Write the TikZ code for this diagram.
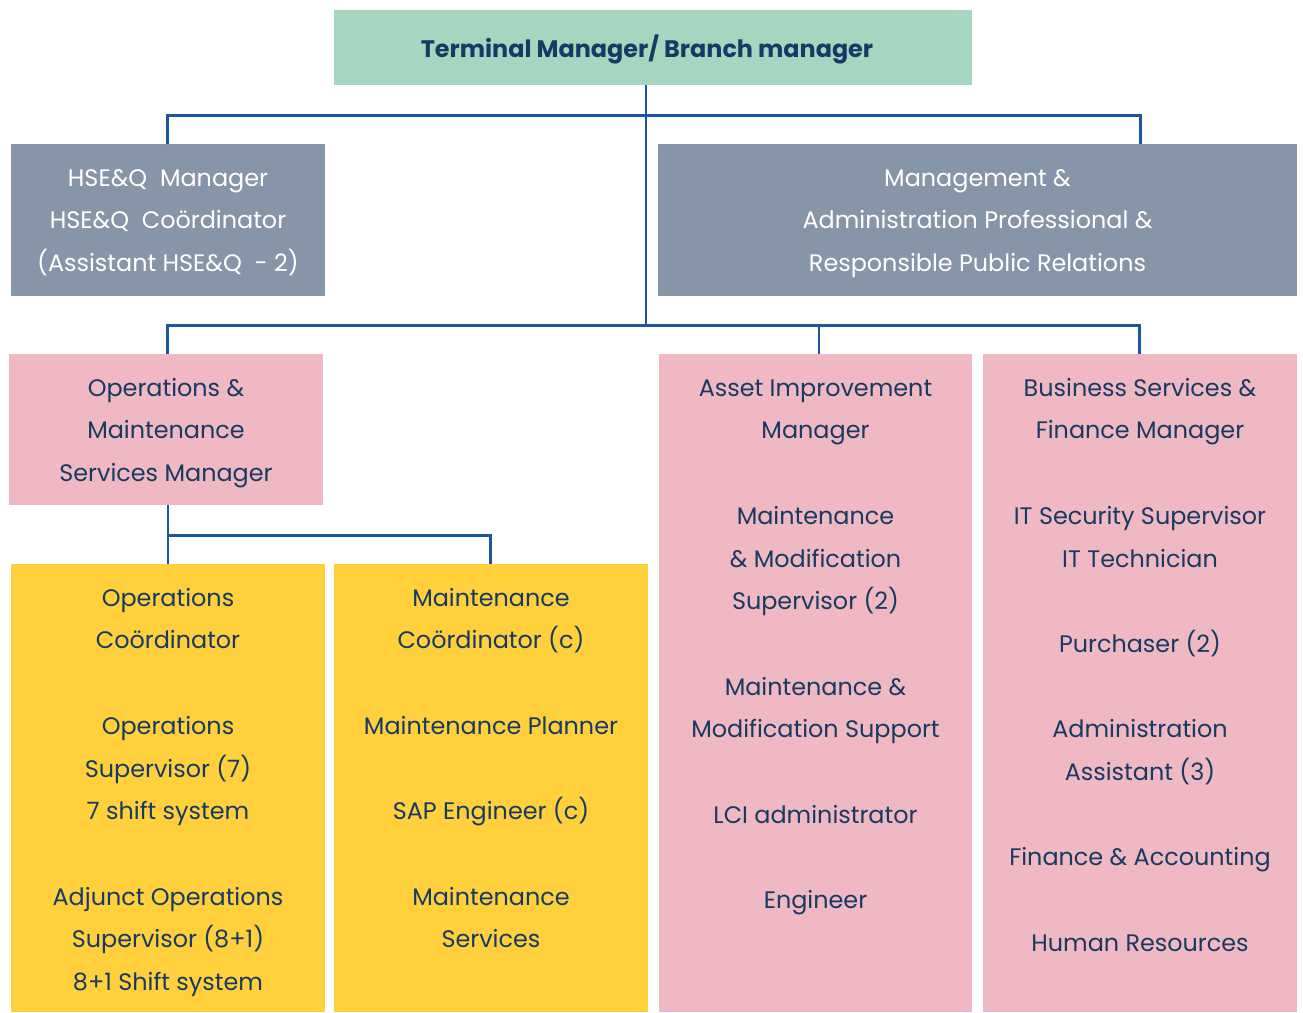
\documentclass[tikz,border=0pt]{standalone}
\usepackage{fontspec}
\setmainfont{Poppins}
\definecolor{mint}{HTML}{A3D7C0}
\definecolor{slate}{HTML}{8795A8}
\definecolor{rose}{HTML}{F0B8C2}
\definecolor{sun}{HTML}{FFD03C}
\definecolor{linkblue}{HTML}{1E55A0}
\definecolor{navy}{HTML}{173A64}
% an empty row inside a multi-line node
\newcommand\emptyrow{\\\strut\\}
\begin{document}
\begin{tikzpicture}[x=0.02cm,y=-0.02cm,
  conn/.style={draw=linkblue, line width=1.7pt},
  box/.style={draw=none, inner sep=0pt, outer sep=0pt, anchor=north west},
  boxtext/.style={anchor=north, align=center, inner sep=0pt, text=navy,
    font=\fontsize{13.6pt}{24.3pt}\selectfont},
  wide/.style={minimum width=12.78cm},
  narrow/.style={minimum width=6.28cm}]
\useasboundingbox[fill=white] (0,0) rectangle (1303,1012);

% boxes
\node[box, fill=mint, minimum width=12.76cm, minimum height=1.5cm] (top) at (334,10) {};
\node[box, fill=slate, narrow, minimum height=3.04cm] (hse) at (11,144) {};
\node[box, fill=slate, wide, minimum height=3.04cm] (mgmt) at (658,144) {};
\node[box, fill=rose, narrow, minimum height=3.02cm] (opsmgr) at (9,354) {};
\node[box, fill=rose, minimum width=6.26cm, minimum height=13.16cm] (asset) at (659,354) {};
\node[box, fill=rose, narrow, minimum height=13.16cm] (biz) at (983,354) {};
\node[box, fill=sun, narrow, minimum height=8.96cm] (opsc) at (11,564) {};
\node[box, fill=sun, narrow, minimum height=8.96cm] (maint) at (334,564) {};

% texts
\node[anchor=base, inner sep=0pt, text=navy, font=\fontsize{13.6pt}{24.3pt}\selectfont\bfseries]
  (topT) at (647,57) {Terminal Manager/ Branch manager};
\node[boxtext, text=white] (hseT) at (168,156)
  {\strut HSE\&Q\ \ Manager\\HSE\&Q\ \ Coördinator\\(Assistant HSE\&Q\ \ - 2)};
\node[boxtext, text=white] (mgmtT) at (977.5,156)
  {\strut Management \&\\Administration Professional \&\\Responsible Public Relations};
\node[boxtext] (opsmgrT) at (166,366)
  {\strut Operations \&\\Maintenance\\Services Manager};
\node[boxtext] (assetT) at (815.5,366)
  {\strut Asset Improvement\\Manager\emptyrow Maintenance\\\& Modification\\Supervisor (2)\emptyrow
   Maintenance \&\\Modification Support\emptyrow LCI administrator\emptyrow Engineer};
\node[boxtext] (bizT) at (1140,366)
  {\strut Business Services \&\\Finance Manager\emptyrow IT Security Supervisor\\IT Technician\emptyrow
   Purchaser (2)\emptyrow Administration\\Assistant (3)\emptyrow Finance \& Accounting\emptyrow Human Resources};
\node[boxtext] (opscT) at (168,576)
  {\strut Operations\\Coördinator\emptyrow Operations\\Supervisor (7)\\7 shift system\emptyrow
   Adjunct Operations\\Supervisor (8+1)\\8+1 Shift system};
\node[boxtext] (maintT) at (491,576)
  {\strut Maintenance\\Coördinator (c)\emptyrow Maintenance Planner\emptyrow SAP Engineer (c)\emptyrow
   Maintenance\\Services};

% junction points of the connector bars
\coordinate (spine) at (646,325);
\coordinate (upperR) at (1140,115);
\coordinate (split) at (168,535);

% connectors
\draw[conn] (top.south -| spine) -- (spine);
\draw[conn] (hse.north) |- (upperR) -- (upperR |- mgmt.north);
\draw[conn] (opsmgr.north -| hse.north) |- (spine) -| (biz.north);
\draw[conn] (spine -| 819,0) -- (asset.north -| 819,0);
\draw[conn] (opsmgr.south -| split) -- (opsc.north -| split);
\draw[conn] (split) -| (maint.north);
\end{tikzpicture}
\end{document}
